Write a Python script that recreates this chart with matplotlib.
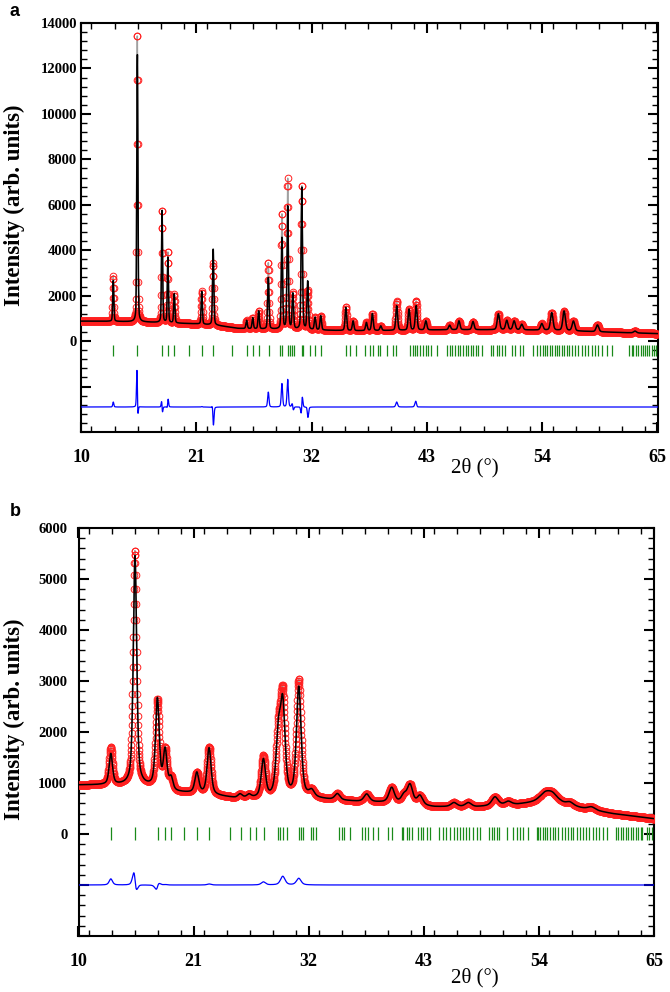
import numpy as np
import matplotlib
matplotlib.use('Agg')
import matplotlib.pyplot as plt
from matplotlib.ticker import MultipleLocator, FuncFormatter

# ---------------- Panel a data ----------------
a_bg_pos = [10, 13, 16, 19, 21, 23, 25, 27, 30, 33, 36, 40, 45, 50, 55, 60, 65]
a_bg_val = [880, 870, 840, 790, 760, 690, 560, 530, 520, 480, 455, 470, 500, 500, 480, 400, 330]

a_peak_pos  = [13.08, 15.37, 17.73, 18.29, 18.90, 21.52, 22.60, 25.80, 26.38, 26.95,
               27.87, 29.17, 29.72, 30.20, 31.07, 31.62, 32.33, 32.87, 35.27, 35.96,
               37.23, 37.80, 38.60, 40.12, 41.30, 41.97, 42.90, 45.17, 46.06, 47.40,
               49.82, 50.62, 51.32, 52.05, 53.96, 54.91, 56.09, 56.98, 59.27, 62.86]
a_calc_shift = [0, 0.006, 0.004, -0.004, 0, 0, 0.010, 0, 0, 0,
                0, 0, 0, 0.01, -0.006, 0.008, 0, 0, 0, 0,
                0, 0, 0, 0, 0, 0.01, 0, 0, 0, 0,
                0, 0, 0, 0, 0, 0, 0, 0, 0, 0]
a_peak_obs  = [2010, 12850, 4990, 3160, 1280, 1460, 2750, 360, 485, 800,
               2950, 5100, 6600, 1560, 6390, 1720, 550, 630, 1025, 430,
               355, 745, 200, 1300, 925, 1290, 405, 200, 390, 360,
               700, 410, 390, 245, 285, 770, 860, 430, 300, 80]
a_peak_calc = [1790, 11800, 4970, 2890, 1280, 1440, 3390, 360, 485, 800,
               2290, 4060, 5390, 1560, 6260, 2130, 550, 630, 1025, 430,
               355, 745, 200, 1080, 925, 1070, 405, 200, 390, 360,
               700, 410, 390, 245, 285, 770, 860, 430, 300, 80]
a_peak_fwhm = [0.12, 0.12, 0.12, 0.12, 0.13, 0.13, 0.14, 0.15, 0.15, 0.15,
               0.15, 0.15, 0.15, 0.16, 0.15, 0.16, 0.17, 0.17, 0.18, 0.18,
               0.19, 0.19, 0.20, 0.20, 0.21, 0.21, 0.22, 0.23, 0.23, 0.24,
               0.26, 0.26, 0.27, 0.27, 0.28, 0.28, 0.29, 0.29, 0.30, 0.32]
a_bragg = [13.08, 15.37, 17.76, 18.27, 18.90, 20.34, 21.51, 22.60, 24.44, 25.87,
           26.45, 26.96, 27.91, 28.99, 29.18, 29.75, 29.94, 30.17, 30.32, 31.05,
           31.20, 31.82, 32.36, 32.93, 35.29, 35.67, 36.24, 37.10, 37.58, 37.90,
           38.37, 38.53, 39.17, 39.80, 40.06, 41.39, 41.71, 41.87, 42.09, 42.35,
           42.66, 42.89, 43.14, 43.37, 44.00, 44.95, 45.21, 45.43, 45.69, 45.94,
           46.16, 46.48, 46.74, 46.96, 47.21, 47.43, 47.66, 47.91, 48.23, 49.12,
           49.34, 49.66, 49.92, 50.14, 50.46, 51.10, 51.41, 51.89, 52.20, 53.10,
           53.48, 53.80, 54.05, 54.27, 54.50, 54.75, 54.97, 55.23, 55.45, 55.64,
           55.87, 56.09, 56.35, 56.56, 56.82, 57.14, 57.45, 57.78, 58.09, 58.41,
           58.73, 59.05, 59.36, 59.68, 60.16, 60.64, 62.32, 62.55, 62.70, 62.96,
           63.18, 63.40, 63.59, 63.82, 64.04, 64.23, 64.46, 64.68, 64.87]
a_diff_offset = -2900
a_bragg_span = (-650, -150)

# ---------------- Panel b data ----------------
b_bg_pos = [10, 13, 16, 19, 22, 25, 28, 32, 34, 37, 40, 44, 48, 52, 54, 56, 58, 61, 65]
b_bg_val = [960, 960, 950, 820, 780, 700, 690, 710, 670, 630, 610, 530, 530, 580, 630, 600, 510, 400, 300]

b_peak_pos  = [13.09, 15.39, 17.55, 18.28, 18.85, 21.31, 22.48, 25.44, 26.30, 27.67,
               29.10, 29.52, 31.05, 32.29, 34.74, 37.54, 39.93, 41.10, 41.68, 42.63,
               45.88, 47.25, 49.80, 51.07, 54.60, 55.30, 56.96, 59.03]
b_calc_shift = [0, 0.01, -0.01, 0, 0, 0, 0, 0, 0, 0,
                0, 0, 0, 0, 0, 0, 0, 0, 0, 0,
                0, 0, 0, 0, 0, 0, 0, 0]
b_peak_obs  = [720, 4600, 1700, 760, 240, 400, 930, 70, 60, 800,
               1150, 1900, 2280, 120, 120, 150, 290, 150, 370, 180,
               80, 80, 170, 65, 150, 150, 60, 57]
b_peak_calc = [600, 4490, 1740, 750, 240, 400, 910, 70, 60, 740,
               1150, 1730, 2150, 120, 120, 150, 290, 150, 370, 180,
               80, 80, 170, 65, 150, 150, 60, 57]
b_peak_fwhm = [0.38, 0.38, 0.42, 0.42, 0.42, 0.45, 0.45, 0.48, 0.48, 0.48,
               0.52, 0.52, 0.52, 0.58, 0.58, 0.62, 0.62, 0.62, 0.62, 0.62,
               0.68, 0.68, 0.72, 0.72, 1.20, 1.20, 0.78, 0.82]
b_bragg = [13.12, 15.42, 17.55, 18.31, 18.85, 20.10, 21.37, 22.48, 24.49, 25.54,
           26.40, 26.97, 27.71, 29.04, 29.26, 29.52, 29.90, 31.05, 31.24, 31.49,
           32.20, 32.39, 32.70, 34.87, 35.16, 35.40, 35.95, 37.07, 37.38, 37.70,
           38.18, 38.65, 39.61, 39.93, 40.89, 41.04, 41.37, 41.61, 41.84, 42.47,
           42.73, 42.95, 43.28, 43.59, 44.48, 44.80, 45.12, 45.50, 45.91, 46.14,
           46.46, 46.77, 47.03, 47.35, 47.73, 48.05, 48.37, 49.26, 49.48, 49.70,
           49.96, 50.21, 50.92, 51.55, 51.87, 52.19, 52.50, 52.98, 53.78, 53.94,
           54.10, 54.36, 54.58, 54.80, 55.05, 55.31, 55.53, 55.85, 56.17, 56.48,
           56.80, 57.03, 57.28, 57.60, 57.92, 58.17, 58.49, 58.80, 59.13, 59.45,
           59.76, 60.08, 60.47, 61.36, 61.58, 61.80, 62.05, 62.28, 62.53, 62.76,
           63.01, 63.24, 63.48, 63.72, 63.90, 64.35, 64.54, 64.77]
b_diff_offset = -1000
b_bragg_span = (-110, 130)

x_ticks = [10, 21, 32, 43, 54, 65]
step = 0.02


def profile(x, pos, amp, fwhm, eta):
    y = np.zeros_like(x)
    for p, a, w in zip(pos, amp, fwhm):
        d = (x - p) / w
        g = np.exp(-4 * np.log(2) * d ** 2)
        l = 1.0 / (1.0 + 4 * d ** 2)
        y += a * (eta * l + (1 - eta) * g)
    return y


fig = plt.figure(figsize=(6.7, 9.92), dpi=100)

panels = [
    dict(rect=[81 / 670, 1 - 432 / 992, 576.5 / 670, 409 / 992], ylim=(-4000, 14000),
         major=2000, minor=400, bgp=a_bg_pos, bgv=a_bg_val, pos=a_peak_pos,
         shift=a_calc_shift, obs=a_peak_obs, calc=a_peak_calc, fwhm=a_peak_fwhm,
         eta=0.3, bragg=a_bragg, span=a_bragg_span, off=a_diff_offset, pad=3,
         letter='a', ly=12, ylab=205, xlab=468),
    dict(rect=[78.5 / 670, 1 - 936 / 992, 575.5 / 670, 408 / 992], ylim=(-2000, 6000),
         major=1000, minor=200, bgp=b_bg_pos, bgv=b_bg_val, pos=b_peak_pos,
         shift=b_calc_shift, obs=b_peak_obs, calc=b_peak_calc, fwhm=b_peak_fwhm,
         eta=0.55, bragg=b_bragg, span=b_bragg_span, off=b_diff_offset, pad=8,
         letter='b', ly=512, ylab=719, xlab=978),
]

x = np.arange(10, 65 + step / 2, step)
serif = 'Liberation Serif'

for P in panels:
    ax = fig.add_axes(P['rect'])
    bg = np.interp(x, P['bgp'], P['bgv'])
    cpos = [p + s for p, s in zip(P['pos'], P['shift'])]
    yobs = bg + profile(x, P['pos'], P['obs'], P['fwhm'], P['eta'])
    ycalc = bg + profile(x, cpos, P['calc'], P['fwhm'], P['eta'])
    diff = yobs - ycalc + P['off']

    ax.plot(x, yobs, color='#a0a0a0', lw=1.0, zorder=2)
    ax.plot(x, yobs, ls='none', marker='o', ms=4.8, mfc='none', mec='#ff2020',
            mew=0.7, zorder=3)
    ax.plot(x, ycalc, color='black', lw=1.1, zorder=4)
    ax.vlines(P['bragg'], P['span'][0], P['span'][1], color='#1a8a1a', lw=0.9, zorder=3)
    ax.plot(x, diff, color='#0000ff', lw=0.9, zorder=3)

    ax.set_xlim(10, 65)
    ax.set_ylim(*P['ylim'])
    ax.set_xticks(x_ticks)
    ax.xaxis.set_minor_locator(MultipleLocator(2.2))
    ax.yaxis.set_major_locator(MultipleLocator(P['major']))
    ax.yaxis.set_minor_locator(MultipleLocator(P['minor']))
    ax.yaxis.set_major_formatter(FuncFormatter(lambda v, p: f'{int(round(v))}' if v > -1 else ''))
    ax.tick_params(which='both', direction='in', top=True, right=True)
    ax.tick_params(which='major', length=7, width=1.5)
    ax.tick_params(which='minor', length=4, width=1.0)
    ax.tick_params(axis='x', pad=12)
    ax.tick_params(axis='y', pad=P['pad'])
    for s in ax.spines.values():
        s.set_linewidth(1.5)
    for lab in ax.get_xticklabels():
        lab.set_fontfamily(serif)
        lab.set_fontweight('bold')
        lab.set_fontsize(13)
    for lab in ax.get_yticklabels():
        lab.set_fontfamily(serif)
        lab.set_fontweight('bold')
        lab.set_fontsize(10.5)

    fig.text(10 / 670, 1 - P['ly'] / 992, P['letter'], ha='left', va='center',
             family='Liberation Sans', weight='bold', fontsize=13)
    fig.text(14 / 670, 1 - P['ylab'] / 992, 'Intensity (arb. units)', rotation=90,
             ha='center', va='center', family=serif, weight='bold', fontsize=16.5)
    fig.text(475 / 670, 1 - P['xlab'] / 992, '2θ (°)', ha='center', va='center',
             family=serif, fontsize=15)

fig.savefig('out.png', dpi=100)
